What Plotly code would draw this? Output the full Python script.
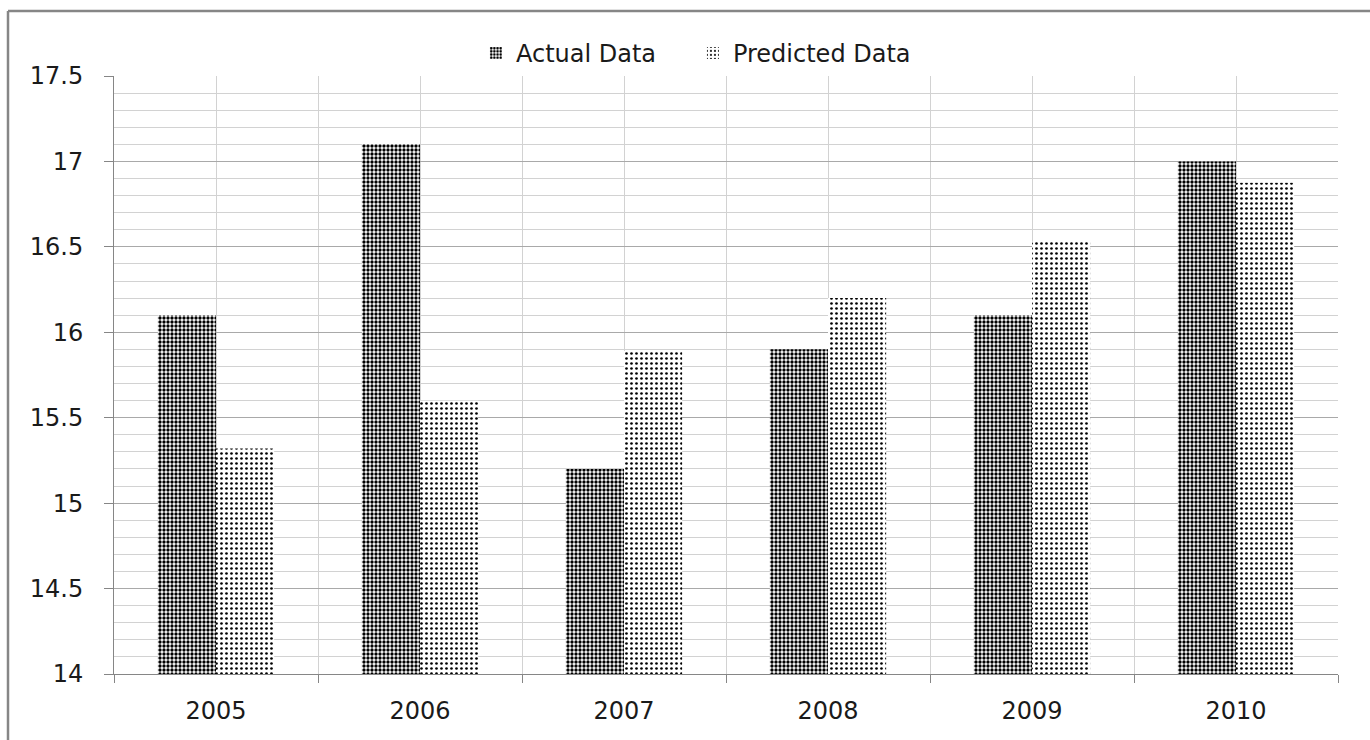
import plotly.graph_objects as go

years = ["2005", "2006", "2007", "2008", "2009", "2010"]
actual = [16.1, 17.1, 15.2, 15.9, 16.1, 17.0]
predicted = [15.32, 15.6, 15.89, 16.2, 16.53, 16.875]

FONT = "DejaVu Sans"
FONT_SIZE = 24
TEXT = "#1a1a1a"
AXIS_GRAY = "#868686"
MAJOR_GRID = "#a9a9a9"
MINOR_GRID = "#d2d2d2"

# one slot per year on a linear axis, labelled with the year
pos = list(range(len(years)))

fig = go.Figure()
fig.add_trace(go.Bar(
    name="Actual Data", x=pos, y=actual,
    marker=dict(color="white", line=dict(width=0),
                pattern=dict(shape=".", size=4, solidity=0.55,
                             fgcolor="black", bgcolor="white", fgopacity=1)),
))
fig.add_trace(go.Bar(
    name="Predicted Data", x=pos, y=predicted,
    marker=dict(color="white", line=dict(width=0),
                pattern=dict(shape=".", size=5, solidity=0.22,
                             fgcolor="black", bgcolor="white", fgopacity=1)),
))

# chart-area frame (left and top edges)
fig.add_shape(type="line", xref="paper", yref="paper",
              x0=-0.0866, x1=-0.0866, y0=-0.2, y1=1.1087,
              line=dict(color=AXIS_GRAY, width=2.5))
fig.add_shape(type="line", xref="paper", yref="paper",
              x0=-0.0866, x1=1.2, y0=1.1087, y1=1.1087,
              line=dict(color=AXIS_GRAY, width=2.5))

fig.update_layout(
    width=1370, height=740,
    margin=dict(l=114, r=32, t=76, b=66),
    paper_bgcolor="white", plot_bgcolor="white",
    barmode="group", bargap=0.43, bargroupgap=0,
    font=dict(family=FONT, size=FONT_SIZE, color=TEXT),
    showlegend=True,
    legend=dict(orientation="h", x=0.473, xanchor="center", y=1.038, yanchor="middle",
                entrywidth=172, entrywidthmode="pixels",
                font=dict(family=FONT, size=FONT_SIZE, color=TEXT),
                bgcolor="rgba(0,0,0,0)", traceorder="normal"),
    xaxis=dict(
        range=[-0.5, len(years) - 0.5],
        tickmode="array", tickvals=pos, ticktext=years, ticks="",
        showgrid=True, gridcolor=MINOR_GRID, gridwidth=1,
        minor=dict(tick0=-0.5, dtick=1, showgrid=True, gridcolor=MINOR_GRID, gridwidth=1,
                   ticks="outside", ticklen=8, tickcolor=AXIS_GRAY),
        showline=True, linecolor=AXIS_GRAY, linewidth=1,
        ticklabelstandoff=15,
        tickfont=dict(family=FONT, size=FONT_SIZE, color=TEXT),
        zeroline=False, fixedrange=True,
    ),
    yaxis=dict(
        range=[14, 17.5], dtick=0.5, tick0=14,
        showgrid=True, gridcolor=MAJOR_GRID, gridwidth=1,
        minor=dict(dtick=0.1, showgrid=True, gridcolor=MINOR_GRID, gridwidth=1),
        showline=True, linecolor=AXIS_GRAY, linewidth=1,
        ticks="outside", ticklen=9, tickcolor=AXIS_GRAY,
        ticklabelstandoff=16,
        tickfont=dict(family=FONT, size=FONT_SIZE, color=TEXT),
        zeroline=False,
    ),
)

fig.write_html("out.html")
